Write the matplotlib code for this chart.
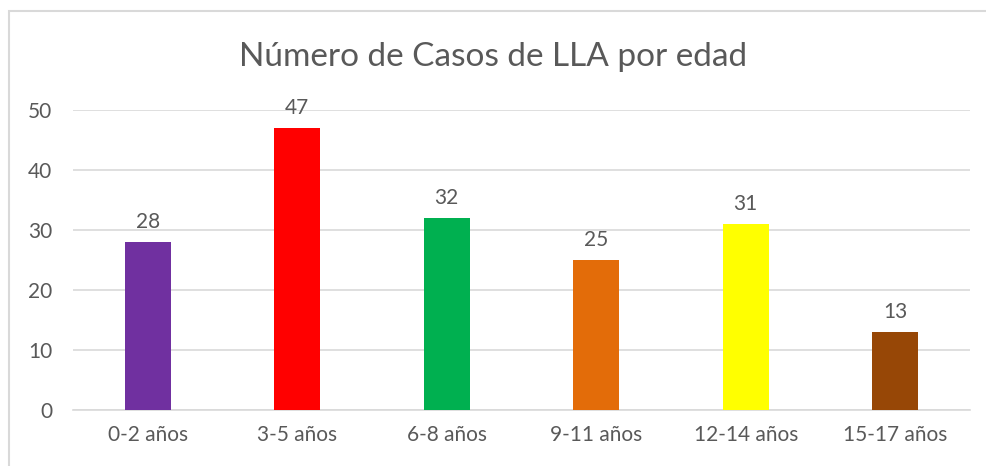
import matplotlib
matplotlib.use('Agg')
from matplotlib import pyplot as plt
from matplotlib.patches import Rectangle

# data
grupos = ['0-2 años', '3-5 años', '6-8 años', '9-11 años', '12-14 años', '15-17 años']
casos = [28, 47, 32, 25, 31, 13]
colores = ['#7030a0', '#ff0000', '#00b050', '#e36c09', '#ffff00', '#974706']

plt.rcParams['font.family'] = ['Lato', 'DejaVu Sans']
gris = '#595959'

fig = plt.figure(figsize=(9.86, 4.66), dpi=100)
ax = fig.add_axes([73/986, 1-410/466, (970-73)/986, 300/466])

x = range(len(grupos))
barras = ax.bar(x, casos, width=0.31, color=colores, zorder=3)
for b, v in zip(barras, casos):
    ax.annotate(str(v), (b.get_x() + b.get_width()/2, v), xytext=(0, 7),
                textcoords='offset points', ha='center', va='bottom',
                fontsize=15, color=gris)

ax.set_xlim(-0.5, len(grupos) - 0.5)
ax.set_ylim(0, 50)
ax.set_yticks(range(0, 51, 10))
ax.set_xticks(list(x))
ax.set_xticklabels(grupos)
ax.grid(axis='y', color='#d9d9d9', linewidth=1.2, zorder=0)
for s in ['top', 'right', 'left']:
    ax.spines[s].set_visible(False)
ax.spines['bottom'].set_color('#d9d9d9')
ax.spines['bottom'].set_linewidth(1.2)
ax.tick_params(length=0, labelsize=15, colors=gris)
ax.tick_params(axis='x', pad=11)
ax.tick_params(axis='y', pad=15)

fig.text(0.5, 1-57/466, 'Número de Casos de LLA por edad', ha='center', va='center',
         fontsize=24, color=gris)

# borde del grafico
fig.patches.append(Rectangle((9/986, -0.1), 1.1, 1-11/466+0.1, transform=fig.transFigure,
                             fill=False, edgecolor='#d9d9d9', linewidth=1.5))

plt.savefig('out.png', dpi=100)
